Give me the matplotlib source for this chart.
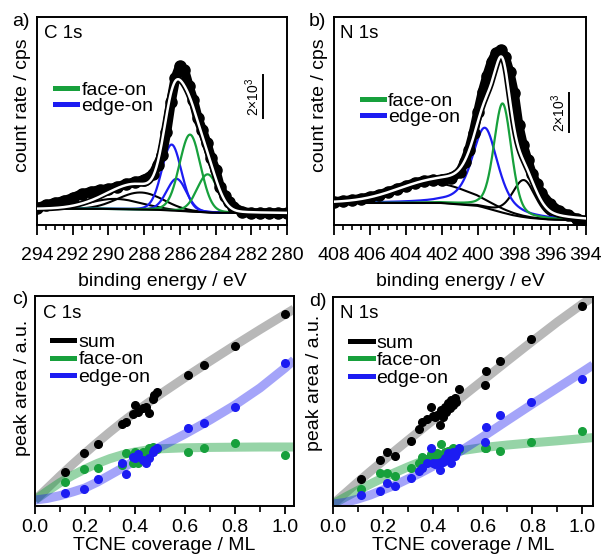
import numpy as np
import matplotlib
matplotlib.use("Agg")
import matplotlib.pyplot as plt
import matplotlib.transforms as mtransforms
from matplotlib.lines import Line2D
from matplotlib.ticker import MultipleLocator, FormatStrFormatter

plt.rcParams['font.family'] = ['Liberation Sans', 'DejaVu Sans']
plt.rcParams['axes.linewidth'] = 1.4
plt.rcParams['mathtext.fontset'] = 'custom'
plt.rcParams['mathtext.rm'] = 'Liberation Sans'
plt.rcParams['mathtext.it'] = 'Liberation Sans'
plt.rcParams['mathtext.bf'] = 'Liberation Sans'

GREEN = '#17a03c'
BLUE = '#1c1cf2'

# ---------------- a) C 1s spectrum (kcps, relative) ----------------
c1s_energy = [294.0, 293.5, 293.0, 292.5, 292.0, 291.5, 291.0, 290.5, 290.0, 289.5,
              289.0, 288.5, 288.0, 287.5, 287.25, 287.0, 286.75, 286.5, 286.25, 286.0,
              285.75, 285.5, 285.25, 285.0, 284.75, 284.5, 284.25, 284.0, 283.75, 283.5,
              283.25, 283.0, 282.5, 282.0, 281.5, 281.0, 280.5, 280.0]
c1s_counts = [0.09, 0.23, 0.33, 0.42, 0.56, 0.74, 0.84, 0.93, 0.98, 1.07,
              1.21, 1.30, 1.40, 1.67, 2.09, 2.56, 3.63, 5.02, 6.14, 6.70,
              6.51, 5.77, 5.12, 4.28, 3.72, 3.12, 2.42, 1.86, 1.07, 0.65,
              0.37, 0.14, -0.09, -0.14, -0.14, -0.14, -0.14, -0.14]
c1s_face_center = [285.43, 284.44]
c1s_face_height = [3.58, 1.77]
c1s_face_fwhm = [1.4, 1.4]
c1s_face_lorentz = [0.1, 0.1]
c1s_edge_center = [286.46, 286.18]
c1s_edge_height = [3.07, 1.49]
c1s_edge_fwhm = [1.3, 1.3]
c1s_edge_lorentz = [0.1, 0.1]
c1s_other_center = [288.2, 289.6]
c1s_other_height = [0.79, 0.47]
c1s_other_fwhm = [3.0, 3.5]
c1s_other_lorentz = [0.0, 0.0]
c1s_bg_energy = [294.0, 290.0, 288.0, 287.0, 286.0, 285.0, 284.0, 283.0, 280.0]
c1s_bg_counts = [0.05, 0.05, 0.02, 0.0, -0.05, -0.09, -0.13, -0.14, -0.15]

# ---------------- b) N 1s spectrum (kcps, relative) ----------------
n1s_energy = [408.0, 407.5, 407.0, 406.5, 406.0, 405.5, 405.0, 404.5, 404.0, 403.5,
              403.0, 402.5, 402.0, 401.5, 401.0, 400.75, 400.5, 400.25, 400.0, 399.75,
              399.5, 399.25, 399.0, 398.75, 398.5, 398.25, 398.0, 397.75, 397.5, 397.25,
              397.0, 396.75, 396.5, 396.0, 395.5, 395.0, 394.5, 394.0]
n1s_counts = [0.05, 0.10, 0.15, 0.21, 0.31, 0.41, 0.56, 0.72, 0.87, 1.03,
              1.13, 1.18, 1.18, 1.28, 1.59, 2.10, 2.72, 3.59, 4.67, 5.69,
              6.51, 7.23, 7.69, 7.85, 7.49, 6.72, 5.64, 4.00, 2.97, 2.21,
              1.49, 0.97, 0.51, -0.05, -0.41, -0.62, -0.82, -0.92]
n1s_face_center = [398.63]
n1s_face_height = [5.6]
n1s_face_fwhm = [1.15]
n1s_face_lorentz = [0.3]
n1s_edge_center = [399.61]
n1s_edge_height = [4.1]
n1s_edge_fwhm = [1.7]
n1s_edge_lorentz = [0.6]
n1s_other_center = [397.45, 402.4]
n1s_other_height = [1.9, 1.0]
n1s_other_fwhm = [1.5, 5.0]
n1s_other_lorentz = [0.3, 0.0]
n1s_bg_energy = [408.0, 402.0, 400.0, 399.5, 399.0, 398.5, 398.0, 397.5, 397.0, 396.0, 394.0]
n1s_bg_counts = [0.0, 0.0, -0.15, -0.27, -0.40, -0.53, -0.64, -0.72, -0.78, -0.85, -0.90]

# ---------------- c) C 1s peak areas ----------------
c_cov = [0.12, 0.197, 0.251, 0.347, 0.363, 0.391, 0.40, 0.413, 0.431, 0.443,
         0.456, 0.471, 0.477, 0.489, 0.613, 0.677, 0.801, 1.0]
c_sum = [0.138, 0.233, 0.278, 0.38, 0.388, 0.428, 0.475, 0.442, 0.462, 0.467,
         0.433, 0.503, 0.525, 0.54, 0.627, 0.673, 0.772, 0.93]
c_face = [0.088, 0.157, 0.158, 0.175, 0.237, 0.187, 0.238, 0.183, 0.242, 0.225,
          0.258, 0.263, 0.25, 0.255, 0.242, 0.262, 0.287, 0.225]
c_edge = [0.033, 0.053, 0.103, 0.187, 0.13, 0.217, 0.208, 0.23, 0.20, 0.187,
          0.208, 0.242, 0.25, 0.258, 0.358, 0.387, 0.463, 0.683]
c_fit_cov = [0.0, 0.05, 0.1, 0.15, 0.2, 0.25, 0.3, 0.35, 0.4, 0.45, 0.5,
             0.6, 0.7, 0.8, 0.9, 1.0, 1.036]
c_fit_sum = [0.0, 0.06, 0.12, 0.178, 0.234, 0.288, 0.34, 0.39, 0.438, 0.484, 0.528,
             0.612, 0.694, 0.774, 0.852, 0.928, 0.955]
c_fit_face = [0.0, 0.045, 0.087, 0.123, 0.155, 0.183, 0.207, 0.226, 0.240, 0.250, 0.256,
              0.261, 0.263, 0.264, 0.265, 0.265, 0.265]
c_fit_edge = [0.0, 0.008, 0.022, 0.04, 0.06, 0.09, 0.125, 0.16, 0.197, 0.232, 0.265,
              0.33, 0.40, 0.475, 0.56, 0.66, 0.70]

# ---------------- d) N 1s peak areas ----------------
d_cov = [0.111, 0.19, 0.218, 0.25, 0.314, 0.344, 0.356, 0.379, 0.395, 0.40,
         0.408, 0.417, 0.431, 0.435, 0.441, 0.448, 0.455, 0.461, 0.468, 0.475,
         0.481, 0.488, 0.495, 0.505, 0.608, 0.613, 0.671, 0.796, 0.998]
d_sum = [0.124, 0.22, 0.262, 0.24, 0.317, 0.373, 0.412, 0.423, 0.483, 0.44,
         0.433, 0.445, 0.395, 0.47, 0.437, 0.487, 0.462, 0.503, 0.478, 0.52,
         0.495, 0.528, 0.512, 0.573, 0.595, 0.667, 0.715, 0.825, 0.992]
d_face = [0.073, 0.153, 0.153, 0.14, 0.178, 0.207, 0.237, 0.223, 0.25, 0.23,
          0.245, 0.257, 0.22, 0.298, 0.24, 0.26, 0.253, 0.265, 0.25, 0.27,
          0.282, 0.26, 0.27, 0.275, 0.278, 0.28, 0.265, 0.308, 0.367]
d_edge = [0.045, 0.067, 0.103, 0.09, 0.128, 0.167, 0.178, 0.207, 0.278, 0.207,
          0.2, 0.207, 0.17, 0.212, 0.21, 0.228, 0.22, 0.253, 0.23, 0.203,
          0.262, 0.24, 0.253, 0.278, 0.312, 0.387, 0.445, 0.508, 0.623]
d_fit_cov = [0.0, 0.05, 0.1, 0.15, 0.2, 0.25, 0.3, 0.35, 0.4, 0.45, 0.5,
             0.6, 0.7, 0.8, 0.9, 1.0, 1.043]
d_fit_sum = [0.0, 0.055, 0.11, 0.163, 0.215, 0.267, 0.318, 0.368, 0.418, 0.468, 0.518,
             0.617, 0.716, 0.814, 0.91, 1.0, 1.035]
d_fit_face = [0.0, 0.035, 0.068, 0.10, 0.13, 0.158, 0.185, 0.21, 0.232, 0.25, 0.264,
              0.282, 0.295, 0.306, 0.316, 0.327, 0.332]
d_fit_edge = [0.0, 0.008, 0.025, 0.045, 0.07, 0.095, 0.125, 0.155, 0.188, 0.22, 0.255,
              0.335, 0.418, 0.50, 0.58, 0.66, 0.695]

SCALE_BAR = 2.0  # kcps  (2x10^3 cps)


def pseudo_voigt(x, c, h, w, eta):
    u = (x - c) / w
    g = np.exp(-4.0 * np.log(2.0) * u ** 2)
    lo = 1.0 / (1.0 + 4.0 * u ** 2)
    return h * ((1 - eta) * g + eta * lo)


W, H = 601, 556
fig = plt.figure(figsize=(W / 100, H / 100), dpi=100)


def box(l, r, t, b):
    return [l / W, 1 - b / H, (r - l) / W, (b - t) / H]


ax_a = fig.add_axes(box(37, 287, 17, 225))
ax_b = fig.add_axes(box(334, 586, 17, 225))
ax_c = fig.add_axes(box(35, 294, 296, 506))
ax_d = fig.add_axes(box(333, 593, 297, 506))


def spectrum(ax, E, y, face, edge, other, bgE, bgY, xlim, ylim):
    grid = np.linspace(xlim[1], xlim[0], 700)
    bg = np.interp(grid, bgE[::-1], bgY[::-1])
    total = bg.copy()
    for params, col, lw in ((other, 'k', 1.5), (edge, BLUE, 1.6), (face, GREEN, 1.6)):
        for c, h, w, eta in zip(*params):
            comp = pseudo_voigt(grid, c, h, w, eta)
            total += comp
            ax.plot(grid, comp + bg, color=col, lw=lw, zorder=2)
    ax.plot(grid, bg, color='k', lw=1.5, zorder=2)
    ax.plot(E, y, '-', color='k', lw=7, solid_joinstyle='round',
            solid_capstyle='round', zorder=3)
    ax.plot(E, y, 'o', color='k', ms=8, zorder=3)
    ax.plot(grid, total, color='k', lw=4.2, zorder=4)
    ax.plot(grid, total, color='white', lw=1.8, zorder=5)
    ax.set_xlim(*xlim)
    ax.set_ylim(*ylim)
    ax.xaxis.set_major_locator(MultipleLocator(2))
    ax.xaxis.set_minor_locator(MultipleLocator(0.5))
    ax.tick_params(axis='x', which='major', length=7, width=1.3, direction='out',
                   pad=8.5, labelsize=14)
    ax.tick_params(axis='x', which='minor', length=3.8, width=1.2, direction='out')
    ax.tick_params(axis='y', left=False, labelleft=False)
    ax.set_xlabel('binding energy / eV', fontsize=14)
    ax.xaxis.set_label_coords(0.5, -0.232)
    ax.set_ylabel('count rate / cps', fontsize=14)


spectrum(ax_a, c1s_energy, c1s_counts,
         (c1s_face_center, c1s_face_height, c1s_face_fwhm, c1s_face_lorentz),
         (c1s_edge_center, c1s_edge_height, c1s_edge_fwhm, c1s_edge_lorentz),
         (c1s_other_center, c1s_other_height, c1s_other_fwhm, c1s_other_lorentz),
         c1s_bg_energy, c1s_bg_counts, (294, 280), (-0.70, 8.98))
spectrum(ax_b, n1s_energy, n1s_counts,
         (n1s_face_center, n1s_face_height, n1s_face_fwhm, n1s_face_lorentz),
         (n1s_edge_center, n1s_edge_height, n1s_edge_fwhm, n1s_edge_lorentz),
         (n1s_other_center, n1s_other_height, n1s_other_fwhm, n1s_other_lorentz),
         n1s_bg_energy, n1s_bg_counts, (408, 394), (-1.13, 9.54))
ax_a.yaxis.set_label_coords(-0.022, 0.577)
ax_b.yaxis.set_label_coords(-0.024, 0.577)

# scale bars
for ax, xb, xt, y0 in [(ax_a, 0.904, 0.862, 4.28), (ax_b, 0.9325, 0.891, 3.64)]:
    tr = mtransforms.blended_transform_factory(ax.transAxes, ax.transData)
    ax.plot([xb, xb], [y0, y0 + SCALE_BAR], color='k', lw=1.4, transform=tr)
    ax.text(xt, y0 + SCALE_BAR / 2, r'2×10$^{3}$', rotation=90, transform=tr,
            ha='center', va='center', fontsize=10)

for ax in (ax_a, ax_b):
    ax.legend(handles=[Line2D([], [], color=GREEN, lw=3.6),
                       Line2D([], [], color=BLUE, lw=3.6)],
              labels=['face-on', 'edge-on'], fontsize=14, frameon=False,
              handlelength=1.15, handletextpad=0.2, labelspacing=-0.1,
              borderpad=0, borderaxespad=0, loc='center left',
              bbox_to_anchor=(0.072, 0.611) if ax is ax_a else (0.111, 0.558))


def areas(ax, cov, s, f, e, fcov, fs, ff, fe, xmax, ylim):
    ax.plot(fcov, fs, color='k', alpha=0.28, lw=6.5, solid_capstyle='butt', zorder=2)
    ax.plot(fcov, ff, color=GREEN, alpha=0.45, lw=6.5, solid_capstyle='butt', zorder=2)
    ax.plot(fcov, fe, color=BLUE, alpha=0.4, lw=6.5, solid_capstyle='butt', zorder=2)
    ax.plot(cov, s, 'o', color='k', ms=5.5, zorder=3)
    ax.plot(cov, f, 'o', color=GREEN, ms=5.5, zorder=3)
    ax.plot(cov, e, 'o', color=BLUE, ms=5.5, zorder=4)
    ax.set_xlim(0, xmax)
    ax.set_ylim(*ylim)
    ax.xaxis.set_major_locator(MultipleLocator(0.2))
    ax.xaxis.set_minor_locator(MultipleLocator(0.1))
    ax.xaxis.set_major_formatter(FormatStrFormatter('%.1f'))
    ax.tick_params(axis='x', which='major', length=5.5, width=1.3, direction='out',
                   pad=4, labelsize=14)
    ax.tick_params(axis='x', which='minor', length=4, width=1.2, direction='out')
    ax.tick_params(axis='y', left=False, labelleft=False)
    ax.set_xlabel('TCNE coverage / ML', fontsize=14)
    ax.xaxis.set_label_coords(0.5, -0.148)
    ax.set_ylabel('peak area / a.u.', fontsize=14)
    ax.legend(handles=[Line2D([], [], color='k', lw=3.6),
                       Line2D([], [], color=GREEN, lw=3.6),
                       Line2D([], [], color=BLUE, lw=3.6)],
              labels=['sum', 'face-on', 'edge-on'], fontsize=14, frameon=False,
              handlelength=1.15, handletextpad=0.2, labelspacing=0.0,
              borderpad=0, borderaxespad=0, loc='center left',
              bbox_to_anchor=(0.066, 0.697))


areas(ax_c, c_cov, c_sum, c_face, c_edge, c_fit_cov, c_fit_sum, c_fit_face, c_fit_edge,
      1.036, (-0.03, 1.02))
areas(ax_d, d_cov, d_sum, d_face, d_edge, d_fit_cov, d_fit_sum, d_fit_face, d_fit_edge,
      1.043, (-0.01, 1.035))
ax_c.yaxis.set_label_coords(-0.015, 0.562)
ax_d.yaxis.set_label_coords(-0.04, 0.589)

ax_a.text(0.028, 0.923, 'C 1s', transform=ax_a.transAxes, va='center', fontsize=13.5)
ax_b.text(0.024, 0.923, 'N 1s', transform=ax_b.transAxes, va='center', fontsize=13.5)
ax_c.text(0.031, 0.919, 'C 1s', transform=ax_c.transAxes, va='center', fontsize=13.5)
ax_d.text(0.027, 0.923, 'N 1s', transform=ax_d.transAxes, va='center', fontsize=13.5)

for lab, x, y in [('a)', 12, 22), ('b)', 309, 22), ('c)', 12, 300), ('d)', 309, 301)]:
    fig.text(x / W, 1 - y / H, lab, fontsize=14, va='center', ha='left')

fig.savefig('out.png', dpi=100)
